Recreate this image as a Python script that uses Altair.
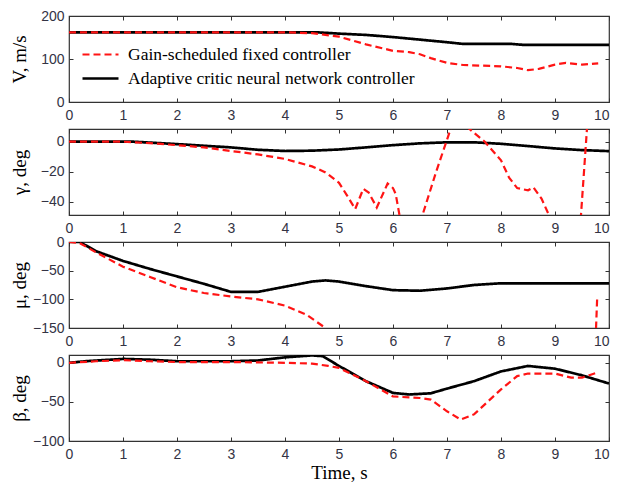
import altair as alt
import pandas as pd

SERIES = ["Gain-scheduled fixed controller", "Adaptive critic neural network controller"]

# ---- V, m/s ----
v_t_ad = [0, 4.6, 5.0, 5.5, 6.0, 6.5, 7.0, 7.3, 8.2, 8.4, 10]
v_ad = [162, 162, 159, 156, 151, 145, 139, 135, 135, 133, 133]
v_t_gs = [0, 4.0, 4.5, 5.0, 5.5, 6.0, 6.3, 6.5, 6.7, 7.0, 7.3, 8.0, 8.3, 8.5, 8.7, 9.0, 9.2, 9.5, 9.8]
v_gs = [162, 162, 160, 152, 134, 119, 116, 111, 102, 91, 86, 83, 79, 74, 77, 87, 91, 87, 90]

# ---- gamma, deg ----
g_t_ad = [0, 1.2, 2, 2.5, 3, 3.5, 4, 4.5, 5, 5.5, 6, 6.5, 7, 7.5, 8, 8.5, 9, 9.5, 10]
g_ad = [0, 0, -1.6, -2.7, -3.8, -5.4, -6.2, -6.0, -5.2, -3.8, -2.3, -1.1, -0.4, -0.4, -1.4, -2.9, -4.5, -5.6, -6.3]
g_t_gs = [0, 1, 1.5, 2, 2.5, 3, 3.5, 4, 4.5, 4.75, 5.0, 5.15, 5.3, 5.45, 5.55, 5.7, 5.9, 6.0, 6.05, 6.15,
          6.3, 6.45, 6.8, 7.1, 7.25, 7.4, 7.7, 8.0, 8.15, 8.3, 8.5, 8.6, 8.75, 8.9, 9.2, 9.46, 9.61, 9.7]
g_gs = [0, 0, -1, -2.3, -3.8, -6.2, -8.5, -11.5, -16.5, -20.5, -27.5, -36, -45, -31.5, -34, -44, -28, -31,
        -35, -55, -70, -60, -20, 12, 14, 9, 0, -12.4, -24, -31, -32.5, -30.5, -38, -50, -70, -60, 18, 30]

# ---- mu, deg ----
m_t_ad = [0, 0.2, 0.5, 1, 1.5, 2, 2.5, 3, 3.5, 4, 4.5, 4.75, 5, 5.5, 6, 6.5, 7, 7.5, 8, 10]
m_ad = [0, 0, -16, -33, -47, -60, -73, -87, -87, -78, -69, -67, -69, -77, -84, -85, -81, -75, -72, -72]
m_t_gs = [0, 0.2, 0.5, 1, 1.5, 2, 2.5, 3, 3.5, 4, 4.4, 4.75, 5.2, 9.6, 9.74, 9.78]
m_gs = [0, -2, -18, -43, -61, -79, -89, -95, -100, -111, -127, -150, -220, -300, -200, -100]

# ---- beta, deg ----
b_t_ad = [0, 0.3, 1, 1.5, 2, 3, 3.5, 4, 4.5, 4.7, 5, 5.5, 6, 6.3, 6.7, 7, 7.5, 8, 8.5, 9, 9.5, 10]
b_ad = [0, 2, 5, 4, 2, 2, 3, 7, 9.5, 8.5, -4, -23.5, -38.5, -40.5, -39, -33, -23.5, -11, -4, -7.5, -16, -26.5]
b_t_gs = [0, 0.5, 1, 1.5, 2, 3, 4, 4.5, 4.8, 5, 5.5, 6, 6.5, 6.7, 7, 7.25, 7.5, 8, 8.3, 8.5, 9, 9.3, 9.5, 9.8]
b_gs = [0, 2, 3.4, 2, 1, 1, 0, -1, -4, -6.5, -23.5, -43, -45, -47, -62, -72.5, -66, -34, -17, -13.7, -13.7, -19, -19, -12]

X_TICKS = list(range(0, 11))
W, H = 540, 86
INWARD = {"expr": "-4"}
X_ALIGN = {"expr": "datum.value == 10 ? 'right' : 'center'"}


def frame(t_ad, y_ad, t_gs, y_gs):
    rows = []
    for i, (t, y) in enumerate(zip(t_ad, y_ad)):
        rows.append({"t": t, "v": y, "series": SERIES[1], "i": i})
    for i, (t, y) in enumerate(zip(t_gs, y_gs)):
        rows.append({"t": t, "v": y, "series": SERIES[0], "i": i})
    return pd.DataFrame(rows)


def panel(df, ytitle, domain, yticks, legend=False, xtitle=None):
    base = alt.Chart(df)
    x_main = alt.X("t:Q", scale=alt.Scale(domain=[0, 10], nice=False),
                   axis=alt.Axis(values=X_TICKS, title=xtitle, tickSize=INWARD, labelPadding=10,
                                 labelAlign=X_ALIGN, titlePadding=2))
    y_main = alt.Y("v:Q", scale=alt.Scale(domain=domain, nice=False, zero=False),
                   axis=alt.Axis(values=yticks, title=ytitle, tickSize=INWARD, labelPadding=9,
                                 titleX=-50, titleY=H / 2, titleAngle=-90, titleAlign="center",
                                 titleBaseline="middle"))
    if legend:
        leg = alt.Legend(title=None, orient="none", legendX=18, legendY=25,
                         symbolType="M-1.5,0L1.5,0", symbolSize=576, symbolStrokeWidth=4,
                         labelFont="Liberation Serif", labelFontSize=17.5, labelColor="black",
                         labelLimit=0, labelOffset=14, rowPadding=2, padding=0)
    else:
        leg = None
    color = alt.Color("series:N", scale=alt.Scale(domain=SERIES, range=["#ff1414", "#000000"]),
                      legend=leg)
    dash = alt.StrokeDash("series:N", scale=alt.Scale(domain=SERIES, range=[[7, 4], [1, 0]]),
                          legend=leg)
    width = alt.StrokeWidth("series:N", scale=alt.Scale(domain=SERIES, range=[2.2, 2.7]), legend=None)
    lines = base.mark_line(clip=True).encode(x=x_main, y=y_main, color=color, strokeDash=dash,
                                             strokeWidth=width, order="i:Q")
    frame_axes = base.mark_line(opacity=0, clip=True).encode(
        x=alt.X("t:Q", axis=alt.Axis(orient="top", values=X_TICKS, labels=False, title=None,
                                     tickSize=INWARD)),
        y=alt.Y("v:Q", axis=alt.Axis(orient="right", values=yticks, labels=False, title=None,
                                     tickSize=INWARD)),
        detail="series:N",
    )
    return alt.layer(lines, frame_axes).resolve_axis(x="independent", y="independent").properties(
        width=W, height=H)


p1 = panel(frame(v_t_ad, v_ad, v_t_gs, v_gs), "V, m/s", [0, 200], [0, 100, 200], legend=True)
p2 = panel(frame(g_t_ad, g_ad, g_t_gs, g_gs), "γ, deg", [-49, 8.5], [-40, -20, 0])
p3 = panel(frame(m_t_ad, m_ad, m_t_gs, m_gs), "μ, deg", [-150, 0], [-150, -100, -50, 0])
p4 = panel(frame(b_t_ad, b_ad, b_t_gs, b_gs), "β, deg", [-100, 10], [-100, -50, 0], xtitle="Time, s")

chart = alt.vconcat(p1, p2, p3, p4, spacing=27, bounds="flush").resolve_legend(
    color="independent", strokeDash="independent", strokeWidth="independent"
).properties(
    padding={"left": 1, "top": 0, "right": 0, "bottom": 0},
    background="white",
).configure_axis(
    labelFont="Liberation Sans", labelFontSize=14, labelColor="#333344",
    tickColor="#333333", tickWidth=1, domain=False, grid=False,
    titleFont="Liberation Serif", titleFontSize=19, titleFontWeight="normal", titleColor="black",
).configure_view(stroke="#333333", strokeWidth=1.2)

chart.save("out.html", embed_options={"renderer": "svg", "actions": False})
